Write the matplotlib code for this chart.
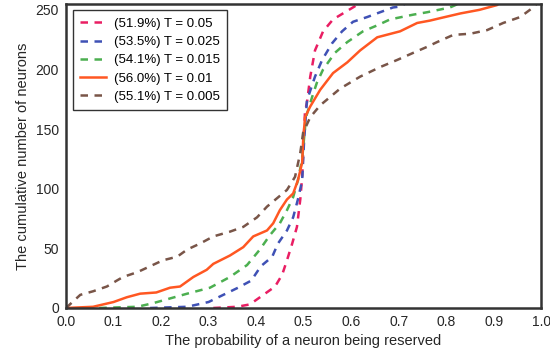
import matplotlib.pyplot as plt

# cumulative neuron counts vs. probability

# T = 0.05
p_005 = [0.31, 0.36, 0.387, 0.44, 0.455, 0.465, 0.476, 0.486, 0.493, 0.497, 0.500, 0.503,
         0.507, 0.514, 0.524, 0.541, 0.562, 0.587, 0.608, 0.613]
n_005 = [0, 1, 3, 18, 28, 40, 54, 68, 91, 110, 140, 165,
         172, 194, 216, 232, 242, 248, 253, 255]

# T = 0.025
p_0025 = [0.177, 0.255, 0.30, 0.362, 0.39, 0.41, 0.434, 0.446, 0.465, 0.478, 0.488, 0.497,
          0.501, 0.507, 0.524, 0.539, 0.56, 0.581, 0.604, 0.634, 0.661, 0.688, 0.707, 0.712]
n_0025 = [0, 1, 5, 17, 23, 35, 43, 54, 65, 76, 91, 107,
          140, 174, 194, 208, 222, 232, 240, 244, 248, 252, 253, 255]

# T = 0.015
p_0015 = [0.07, 0.15, 0.183, 0.219, 0.255, 0.303, 0.345, 0.381, 0.408, 0.429, 0.45, 0.465,
          0.478, 0.488, 0.497, 0.505, 0.518, 0.528, 0.541, 0.566, 0.592, 0.625, 0.655, 0.682,
          0.731, 0.76, 0.808, 0.825]
n_0015 = [0, 1, 4, 8, 12, 17, 26, 36, 49, 61, 71, 82,
          93, 107, 125, 160, 177, 189, 200, 214, 223, 232, 237, 242,
          246, 248, 252, 255]

# T = 0.01
p_001 = [0.0, 0.057, 0.10, 0.128, 0.156, 0.19, 0.219, 0.24, 0.268, 0.296, 0.31, 0.345,
         0.373, 0.394, 0.423, 0.436, 0.45, 0.465, 0.478, 0.488, 0.497, 0.499, 0.503, 0.514,
         0.535, 0.562, 0.592, 0.619, 0.655, 0.703, 0.739, 0.766, 0.787, 0.83, 0.87, 0.907, 0.91]
n_001 = [0, 1, 5, 9, 12, 13, 17, 18, 26, 32, 37, 44,
         51, 60, 65, 71, 82, 91, 96, 107, 122, 140, 160, 169,
         183, 197, 206, 216, 227, 232, 239, 241, 243, 247, 250, 254, 255]

# T = 0.005
p_0005 = [0.0, 0.03, 0.057, 0.086, 0.107, 0.12, 0.15, 0.177, 0.204, 0.234, 0.255, 0.282,
          0.31, 0.345, 0.373, 0.402, 0.423, 0.444, 0.465, 0.482, 0.493, 0.499, 0.514, 0.535,
          0.577, 0.619, 0.661, 0.697, 0.731, 0.76, 0.781, 0.815, 0.851, 0.886, 0.92, 0.956,
          0.983, 0.99]
n_0005 = [0, 11, 14, 18, 23, 26, 30, 35, 40, 43, 49, 54,
          60, 64, 68, 76, 85, 92, 99, 110, 130, 147, 160, 170,
          184, 194, 202, 208, 214, 219, 223, 229, 230, 233, 239, 244,
          252, 255]

labels = ["(51.9%) T = 0.05", "(53.5%) T = 0.025", "(54.1%) T = 0.015",
          "(56.0%) T = 0.01", "(55.1%) T = 0.005"]
colors = ["#E91E63", "#3F51B5", "#4CAF50", "#FF5722", "#795548"]

plt.rcParams['font.family'] = ['Liberation Sans', 'DejaVu Sans']

fig = plt.figure(figsize=(5.5, 3.54), dpi=100)
ax = fig.add_axes([0.12, 0.13, 0.864, 0.859])

curves = [(p_005, n_005), (p_0025, n_0025), (p_0015, n_0015), (p_001, n_001), (p_0005, n_0005)]
for i, (p, n) in enumerate(curves):
    if i == 3:
        ax.plot(p, n, color=colors[i], lw=1.8, label=labels[i])
    else:
        ax.plot(p, n, color=colors[i], lw=1.8, linestyle=(0, (3, 2.6)), label=labels[i])

ax.set_xlim(0, 1)
ax.set_ylim(0, 255)
ax.set_xticks([i / 10 for i in range(11)])
ax.set_yticks([0, 50, 100, 150, 200, 250])
ax.tick_params(length=0, labelsize=10, colors="#262626", pad=5)
for s in ax.spines.values():
    s.set_color("#333333")
    s.set_linewidth(1.8)

ax.set_xlabel("The probability of a neuron being reserved", fontsize=10.5, color="#262626")
ax.set_ylabel("The cumulative number of neurons", fontsize=10.5, color="#262626")

leg = ax.legend(loc="upper left", fontsize=9.5, fancybox=False, framealpha=1,
                edgecolor="#333333", handlelength=2.0, handletextpad=0.6,
                borderpad=0.55, labelspacing=0.45)
leg.get_frame().set_linewidth(1.0)

plt.savefig("out.png")
